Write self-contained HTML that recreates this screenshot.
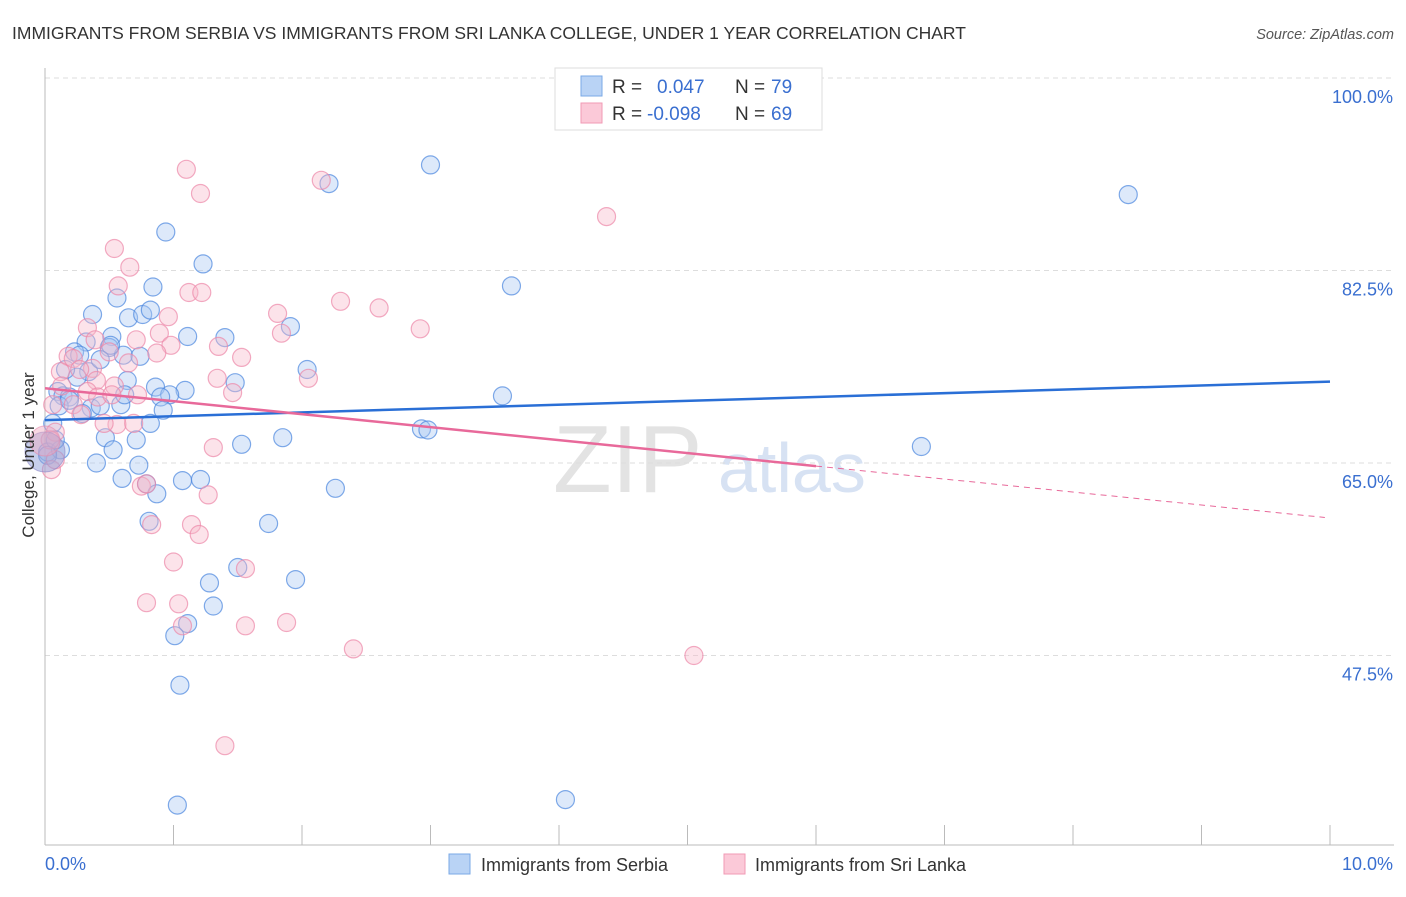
<!DOCTYPE html>
<html><head><meta charset="utf-8"><style>
body{margin:0;background:#fff;font-family:"Liberation Sans",sans-serif}
svg text{font-family:"Liberation Sans",sans-serif}
</style></head><body>
<svg id="c" width="1406" height="892">
<text x="12" y="39" font-size="17.5" fill="#333">IMMIGRANTS FROM SERBIA VS IMMIGRANTS FROM SRI LANKA COLLEGE, UNDER 1 YEAR CORRELATION CHART</text>
<text x="1394" y="39" font-size="14.5" fill="#555" font-style="italic" text-anchor="end">Source: ZipAtlas.com</text>
<g>
<text x="553" y="492" font-size="96" font-family="Liberation Serif" fill="#ddd" opacity="0.8">ZIP</text>
<text x="718" y="492" font-size="70" fill="#c7d7ef" opacity="0.7">atlas</text>
</g>
<g id="grid"></g>
<g id="pts"></g>
<g id="trend"></g>
<text transform="translate(34,455) rotate(-90)" font-size="17" fill="#333" text-anchor="middle">College, Under 1 year</text>
<g>
<rect x="555" y="68" width="267" height="62" fill="#fff" stroke="#ddd"/>
<rect x="581" y="76" width="21" height="20" fill="#b9d3f5" stroke="#7aa8e6"/>
<rect x="581" y="103" width="21" height="20" fill="#fbc9d8" stroke="#f09ab5"/>
<text x="612" y="93" font-size="19" fill="#333">R =</text>
<text x="657" y="93" font-size="19" fill="#3a6fd0">0.047</text>
<text x="735" y="93" font-size="19" fill="#333">N =</text>
<text x="771" y="93" font-size="19" fill="#3a6fd0">79</text>
<text x="612" y="120" font-size="19" fill="#333">R =</text>
<text x="647" y="120" font-size="19" fill="#3a6fd0">-0.098</text>
<text x="735" y="120" font-size="19" fill="#333">N =</text>
<text x="771" y="120" font-size="19" fill="#3a6fd0">69</text>
</g>
<g>
<rect x="449" y="854" width="21" height="20" fill="#b9d3f5" stroke="#7aa8e6"/>
<text x="481" y="871" font-size="18" fill="#333">Immigrants from Serbia</text>
<rect x="724" y="854" width="21" height="20" fill="#fbc9d8" stroke="#f09ab5"/>
<text x="755" y="871" font-size="18" fill="#333">Immigrants from Sri Lanka</text>
</g>
</svg>
<script>
const yTicks=[100,82.5,65,47.5];
const yTickLabels=["100.0%","82.5%","65.0%","47.5%"];
const xTickLabels=["0.0%","10.0%"];
const serbiaX=[3.00,2.21,8.43,0.94,1.23,3.63,0.84,0.56,0.37,0.65,0.76,1.91,0.52,1.11,1.40,0.32,0.50,0.23,0.27,0.61,0.74,2.04,0.34,0.25,0.64,1.48,0.86,1.09,0.97,0.10,0.14,0.19,0.90,3.56,0.11,0.36,0.43,0.59,0.92,0.29,0.06,0.82,2.93,2.98,0.47,0.71,0.53,1.53,1.85,6.82,0.02,0.40,0.73,0.60,1.07,1.21,0.79,2.26,0.87,0.81,1.74,1.50,1.28,1.95,1.31,1.11,1.01,1.05,1.03,4.05,0.12,0.19,0.16,0.51,0.43,0.62,0.08,0.02,0.82];
const serbiaY=[92.1,90.4,89.4,86.0,83.1,81.1,81.0,80.0,78.5,78.2,78.5,77.4,76.5,76.5,76.4,76.0,75.5,75.1,74.8,74.8,74.7,73.5,73.3,72.8,72.5,72.3,71.9,71.6,71.2,71.5,71.1,71.0,71.0,71.1,70.2,70.0,70.2,70.3,69.8,69.5,68.6,68.6,68.1,68.0,67.3,67.1,66.2,66.7,67.3,66.5,66.0,65.0,64.8,63.6,63.4,63.5,63.1,62.7,62.2,59.7,59.5,55.5,54.1,54.4,52.0,50.4,49.3,44.8,33.9,34.4,66.2,70.7,73.5,75.7,74.4,71.2,67.1,65.7,78.9];
const lankaX=[1.10,1.21,2.15,4.37,0.54,0.66,0.57,1.12,1.22,2.30,2.60,1.81,2.92,0.96,0.33,0.89,0.39,0.71,1.84,1.35,0.98,0.18,0.22,0.50,0.87,1.53,0.65,0.37,0.12,0.40,0.54,0.13,1.34,2.05,1.46,0.33,0.72,0.22,0.41,0.06,0.56,0.46,0.69,0.28,1.31,0.08,0.04,0.05,0.75,0.79,1.27,0.83,1.14,1.20,1.00,1.56,0.79,1.04,1.07,1.56,1.88,2.40,5.05,1.40,0.08,0.27,0.52];
const lankaY=[91.7,89.5,90.7,87.4,84.5,82.8,81.1,80.5,80.5,79.7,79.1,78.6,77.2,78.3,77.3,76.8,76.2,76.2,76.8,75.6,75.7,74.7,74.5,75.1,75.0,74.6,74.1,73.6,73.3,72.5,72.0,72.0,72.7,72.7,71.4,71.5,71.2,70.3,71.0,70.3,68.5,68.6,68.6,69.4,66.4,67.8,67.1,64.4,62.9,63.1,62.1,59.4,59.4,58.5,56.0,55.4,52.3,52.2,50.2,50.2,50.5,48.1,47.5,39.3,65.3,73.5,71.2];
const serbiaTrend=[68.9,72.4];
const lankaTrend=[71.8,60.0];
const lankaSolidEnd=6.0;
const NS="http://www.w3.org/2000/svg";
const X0=45,X1=1330,Y100=78,PPU=11;
const sx=v=>X0+(X1-X0)*v/10;
const sy=v=>Y100+(100-v)*PPU;
function mk(tag,attrs,parent){const e=document.createElementNS(NS,tag);for(const k in attrs)e.setAttribute(k,attrs[k]);parent.appendChild(e);return e;}
const grid=document.getElementById('grid'),svg=document.getElementById('c');
yTicks.forEach((t,i)=>{
 const l=mk('line',{x1:X0,x2:1394,y1:sy(t),y2:sy(t),stroke:'#ddd','stroke-dasharray':'5,4'},grid);
 
 
 const tx=mk('text',{x:1393,y:sy(t)+25,'font-size':18,fill:'#3a6fd0','text-anchor':'end'},grid);
 tx.textContent=yTickLabels[i];
 
 
});
const ax=mk('line',{x1:X0,x2:X0,y1:68,y2:845,stroke:'#bbb'},grid);


const bx=mk('line',{x1:X0,x2:1394,y1:845,y2:845,stroke:'#bbb'},grid);


for(let i=0;i<=10;i++){
 const t=mk('line',{x1:sx(i),x2:sx(i),y1:825,y2:845,stroke:'#bbb'},grid);
 
 
}
[[0,'start',45],[10,'end',1393]].forEach((d,i)=>{
 const t=mk('text',{x:d[2],y:870,'font-size':18,fill:'#3a6fd0','text-anchor':d[1]},grid);
 t.textContent=xTickLabels[i];
 
 
});
const pts=document.getElementById('pts');
function drawSeries(xs,ys,fill,stroke,name){
 xs.forEach((x,i)=>{
  const c=mk('circle',{cx:sx(x),cy:sy(ys[i]),r:9,fill:fill,'fill-opacity':0.4,stroke:stroke,'stroke-opacity':0.7,'stroke-width':1.2},pts);
  
  
 });
}
drawSeries(serbiaX,serbiaY,'#a9c8f2','#4a86de','serbia-point');
drawSeries(lankaX,lankaY,'#f8b8cb','#ec87a8','srilanka-point');
let big=mk('circle',{cx:sx(0),cy:sy(66.0),r:20,fill:'#8f9fd8','fill-opacity':0.5,stroke:'#8a86c8','stroke-opacity':0.6},pts);


big=mk('circle',{cx:sx(0),cy:sy(67.0),r:15,fill:'#f0a8c2','fill-opacity':0.45,stroke:'#e58aab','stroke-opacity':0.6},pts);


const tr=document.getElementById('trend');
let l=mk('line',{x1:sx(0),y1:sy(serbiaTrend[0]),x2:sx(10),y2:sy(serbiaTrend[1]),stroke:'#2a6fd6','stroke-width':2.5},tr);


const ly=x=>lankaTrend[0]+(lankaTrend[1]-lankaTrend[0])*x/10;
l=mk('line',{x1:sx(0),y1:sy(ly(0)),x2:sx(lankaSolidEnd),y2:sy(ly(lankaSolidEnd)),stroke:'#e8699a','stroke-width':2.5},tr);


l=mk('line',{x1:sx(lankaSolidEnd),y1:sy(ly(lankaSolidEnd)),x2:sx(9.96),y2:sy(ly(9.96)),stroke:'#e8699a','stroke-width':1,'stroke-dasharray':'6,5'},tr);


</script>
</body></html>
